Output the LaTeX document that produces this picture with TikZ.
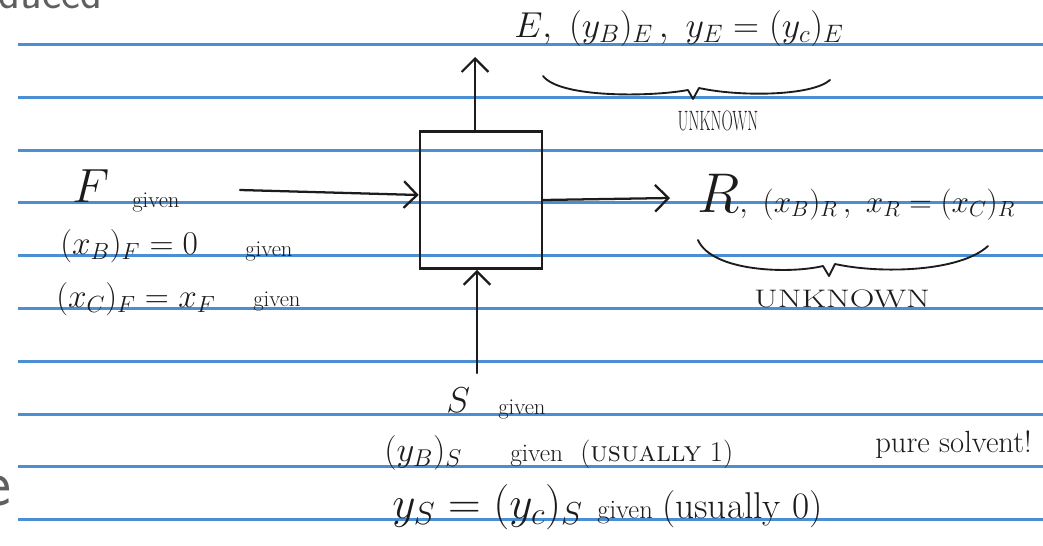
\RequirePackage{fix-cm}
\documentclass[tikz,border=0pt]{standalone}
\usepackage{amsmath}
\usepackage{fontspec}
\usetikzlibrary{arrows.meta}
\definecolor{ruled}{RGB}{74,142,212}
\definecolor{ink}{RGB}{28,28,28}
\definecolor{webgray}{RGB}{95,95,95}
\newcommand{\fsz}[1]{\fontsize{#1}{#1}\selectfont}

\begin{document}
\begin{tikzpicture}[x=0.75pt,y=-0.75pt,>={Straight Barb[length=10pt,width=20pt]},
  ink line/.style={ink,line width=1.7pt,line cap=round,line join=round},
  hand/.style={ink,inner sep=0pt,anchor=base west},
  note/.style={hand,font=\fsz{17}}]
\useasboundingbox (0,0) rectangle (1043,546);
% ruled paper
\foreach \k in {0,...,9}
  \draw[ruled,line width=2.2pt] (18,44.5+52.8*\k) -- (1043,44.5+52.8*\k);
% bits of the web page around the scan
\begin{scope}
\clip (0,0) rectangle (1043,546);
\node[anchor=base west,inner sep=0pt,webgray,font=\sffamily\fsz{34}] (dcd) at (-2,8) {duced};
\node[anchor=base east,inner sep=0pt,webgray,font=\sffamily\fsz{50}] (ltr) at (12,505) {e};
\end{scope}
% extractor
\node[draw=ink,line width=1.9pt,minimum width=91.5pt,minimum height=103pt,inner sep=0pt] (unit) at (481,200) {};
% feed
\node[hand,font=\fsz{36}] (feed) at (72,202) {$F$};
\node[note] (feedgiv) at (132,207) {given};
\node[hand,font=\fsz{25}] (xbf) at (60,254) {$(x_B)_F = 0$};
\node[note] (xbfgiv) at (245,256) {given};
\node[hand,font=\fsz{25}] (xcf) at (56,307) {$(x_C)_F = x_F$};
\node[note] (xcfgiv) at (253,306) {given};
% extract
\node[hand,font=\fsz{27}] (ext) at (514,37) {$E,\ (y_B)_E\,,\ y_E = (y_c)_E$};
\draw[ink line,line width=1.4pt] (543,76) .. controls (560,98) and (650,97) .. (688,90)
  -- (693,99) -- (699,88) .. controls (740,97) and (812,96) .. (830,80);
\node[ink,inner sep=0pt,font=\fsz{21}] (unkext) at (718,121) {\scalebox{0.56}[1]{UNKNOWN}};
% raffinate
\node[hand,font=\fsz{23.5}] (raf) at (697,212) {$\mbox{\fsz{42}$R$},\ (x_B)_R\,,\ x_R = (x_C)_R$};
\draw[ink line,line width=1.4pt] (698,240) .. controls (712,272) and (790,274) .. (823,266)
  -- (829,276) -- (835,264) .. controls (880,274) and (960,272) .. (988,246);
\node[ink,inner sep=0pt,font=\fsz{19}] (unkraf) at (842,299) {\scalebox{1.35}[1]{UNKNOWN}};
% solvent
\node[hand,font=\fsz{27}] (solv) at (446,412) {$S$};
\node[note] (solvgiv) at (498,414) {given};
\node[hand,font=\fsz{26}] (ybs) at (384,461) {$(y_B)_S$};
\node[note,font=\fsz{19}] (ybsgiv) at (510,461) {given};
\node[hand,font=\fsz{21.5}] (ybsnote) at (580,461) {(\textsc{usually} 1)};
\node[hand,font=\fsz{34}] (ycs) at (392,518) {$y_S = (y_c)_S$};
\node[note,font=\fsz{20}] (ycsgiv) at (597,518) {given};
\node[hand,font=\fsz{28}] (ycsnote) at (662,518) {(usually 0)};
\node[hand,font=\fsz{23}] (pure) at (875,452) {pure solvent!};
% streams
\coordinate (fIn) at (240,190);
\coordinate (eOut) at (475,57);
\coordinate (rOut) at (670,198);
\coordinate (sIn) at (477,373);
\draw[ink line,->] (fIn) -- ([yshift=3.75pt]unit.west);
\draw[ink line,->] ([xshift=-4.5pt]unit.north) -- (eOut);
\draw[ink line,->] (unit.east) -- (rOut);
\draw[ink line,->] (sIn) -- ([xshift=-3pt]unit.south);
\end{tikzpicture}
\end{document}
